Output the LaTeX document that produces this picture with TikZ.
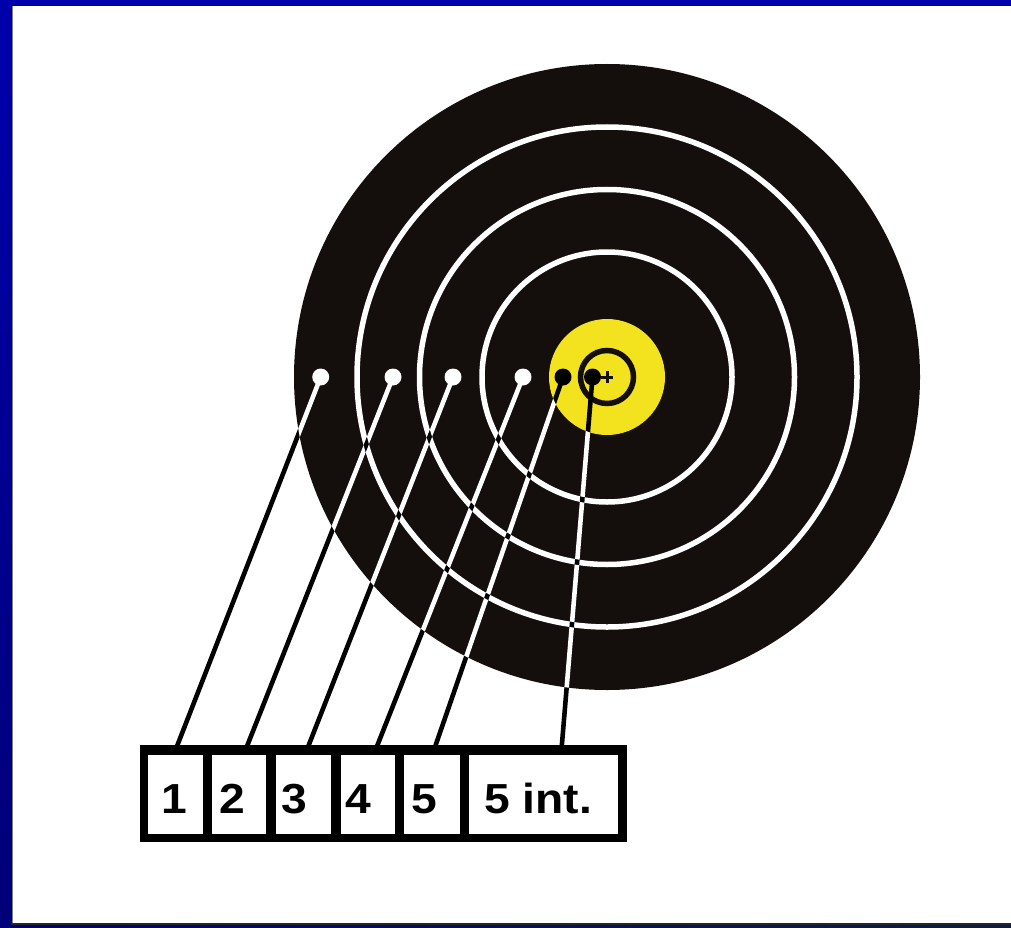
\documentclass[tikz,border=0pt]{standalone}
\usepackage{fontspec}
\setmainfont{Liberation Sans}
\newfontfamily\lblfont[FakeStretch=1.1]{Liberation Sans}
\definecolor{tblack}{RGB}{20,14,12}
\definecolor{tyellow}{RGB}{243,226,30}
\definecolor{bluetop}{RGB}{0,0,172}
\definecolor{bluemid}{RGB}{0,0,245}
\definecolor{bluebot}{RGB}{0,0,120}
\definecolor{navy}{RGB}{8,30,70}
\begin{document}
\begin{tikzpicture}[x=1pt,y=-1pt,
  conn/.style={line width=4.6pt},
  dotnode/.style={circle, inner sep=0pt, minimum size=17pt, fill=black},
  cell/.style={fill=white, inner sep=0pt, minimum height=79pt, anchor=north west},
  lbl/.style={anchor=base west, inner sep=0pt, font=\lblfont\fontsize{42}{50}\selectfont\bfseries, text=black},
  ringline/.style={white, line width=5.5pt}]
\useasboundingbox (0,0) rectangle (1011,928);
% frame
\fill[white] (0,0) rectangle (1011,928);
\shade[top color=bluetop, middle color=bluemid, bottom color=bluebot] (0,0) rectangle (11,928);
\fill[bluetop] (11,0) rectangle (1011,5);
\shade[left color=bluebot, right color=navy] (11,925) rectangle (1011,928);
\fill[black] (11,5) rectangle (12.3,925);
\fill[gray] (12.3,6.3) rectangle (13.2,923.5);
\fill[black] (11,5) rectangle (1011,6.5);
\fill[black!85] (11,923.3) rectangle (1011,925);
% target
\coordinate (C) at (607,377);
\fill[tblack] (C) circle[radius=313pt];
\draw[ringline] (C) circle[radius=250pt] (C) circle[radius=187.5pt] (C) circle[radius=125pt];
\fill[tyellow] (C) circle[radius=58pt];
\draw[tblack, line width=5.5pt] (C) circle[radius=26.5pt];
\draw[tblack, line width=3pt] (601,377) -- (613,377) (607,371) -- (607,383);
% hits
\node[dotnode] (d1) at (320.7,377) {};
\node[dotnode] (d2) at (393,377) {};
\node[dotnode] (d3) at (453,377) {};
\node[dotnode] (d4) at (523,377) {};
\node[dotnode] (d5) at (563,377) {};
\node[dotnode] (d6) at (592.5,377) {};
\coordinate (b1) at (176.7,747);
\coordinate (b2) at (246.7,747);
\coordinate (b3) at (308,747);
\coordinate (b4) at (376.7,747);
\coordinate (b5) at (435,747);
\coordinate (b6) at (561.7,747);
\draw[conn] (d1.center) -- (b1);
\draw[conn] (d2.center) -- (b2);
\draw[conn] (d3.center) -- (b3);
\draw[conn] (d4.center) -- (b4);
\draw[conn] (d5.center) -- (b5);
\draw[conn] (d6.center) -- (b6);
% white where over black zones
\begin{scope}[even odd rule]
\clip (C) circle[radius=313pt] (C) circle[radius=252.75pt] (C) circle[radius=247.25pt]
  (C) circle[radius=190.25pt] (C) circle[radius=184.75pt] (C) circle[radius=127.75pt] (C) circle[radius=122.25pt]
  (C) circle[radius=58pt];
\draw[conn, white] (d1.center) -- (b1);
\draw[conn, white] (d2.center) -- (b2);
\draw[conn, white] (d3.center) -- (b3);
\draw[conn, white] (d4.center) -- (b4);
\draw[conn, white] (d5.center) -- (b5);
\draw[conn, white] (d6.center) -- (b6);
\fill[white] (d1.center) circle[radius=8.5pt] (d2.center) circle[radius=8.5pt]
  (d3.center) circle[radius=8.5pt] (d4.center) circle[radius=8.5pt];
\end{scope}
% score panel
\node[fill=black, inner sep=0pt, minimum width=487pt, minimum height=97pt, anchor=north west] (panel) at (140,745) {};
\node[cell, minimum width=55.4pt] (c1) at (147.3,755) {};
\node[cell, minimum width=54.3pt] (c2) at (211.7,755) {};
\node[cell, minimum width=55.3pt] (c3) at (275.7,755) {};
\node[cell, minimum width=54.3pt] (c4) at (340.7,755) {};
\node[cell, minimum width=56pt] (c5) at (404,755) {};
\node[cell, minimum width=148.3pt] (c6) at (469,755) {};
\node[lbl] (t1) at (161,813.5) {1};
\node[lbl] (t2) at (219,813.5) {2};
\node[lbl] (t3) at (281,813.5) {3};
\node[lbl] (t4) at (345,813.5) {4};
\node[lbl] (t5) at (411,813.5) {5};
\node[lbl] (t6) at (484,813.5) {5 int.};
\end{tikzpicture}
\end{document}
